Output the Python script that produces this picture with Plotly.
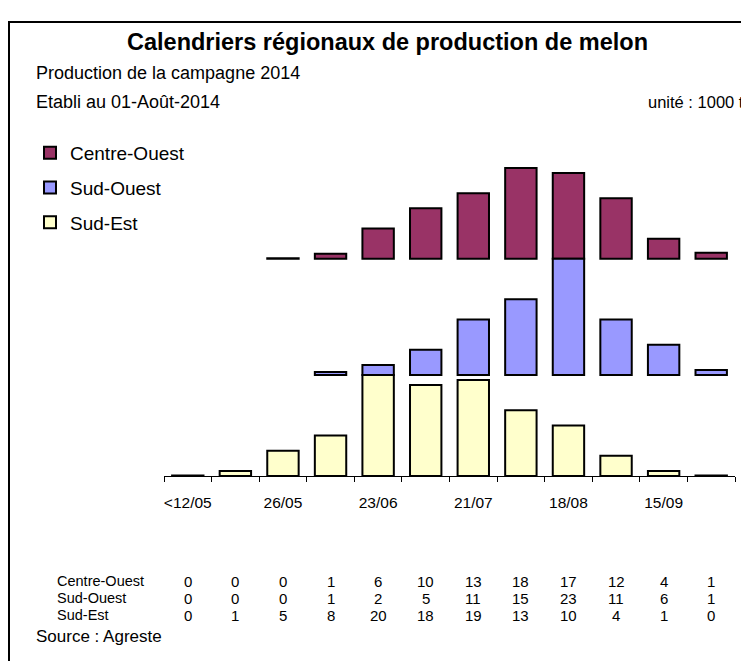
import plotly.graph_objects as go

# ---- data ----
categories = ["<12/05", "12/05", "26/05", "09/06", "23/06", "07/07",
              "21/07", "04/08", "18/08", "01/09", "15/09", "29/09"]
tick_labels = ["<12/05", "", "26/05", "", "23/06", "",
               "21/07", "", "18/08", "", "15/09", ""]
centre_ouest = [0, 0, 0.1, 1, 6, 10, 13, 18, 17, 12, 4, 1.2]
sud_ouest = [0, 0, 0, 0.6, 2, 5, 11, 15, 23, 11, 6, 1]
sud_est = [0.1, 1, 5, 8, 20, 18, 19, 13, 10, 4, 1, 0.1]

series = [
    ("Centre-Ouest", centre_ouest, "#993366"),
    ("Sud-Ouest", sud_ouest, "#9999FF"),
    ("Sud-Est", sud_est, "#FFFFCC"),
]

# stacked offsets (each region on its own baseline)
base_sud_est = 0
base_sud_ouest = max(sud_est)
base_centre = base_sud_ouest + max(sud_ouest)
bases = {"Centre-Ouest": base_centre, "Sud-Ouest": base_sud_ouest, "Sud-Est": base_sud_est}

# page body has an 8px margin: the figure starts at screen (8, 8)
OFF = 8
W, H = 749 - OFF, 661 - OFF
# plot area in screen pixels
X0, X1, Y0, Y1 = 164, 735, 140, 476
L, R, T, B = X0 - OFF, W - (X1 - OFF), Y0 - OFF, H - (Y1 - OFF)
PW, PH = X1 - X0, Y1 - Y0
FONT = "Liberation Sans, Arial, sans-serif"


def px(x):
    return (x - X0) / PW


def py(y):
    return (Y1 - y) / PH


fig = go.Figure()
for i, (name, vals, col) in enumerate(series):
    fig.add_trace(go.Bar(
        x=categories, y=[v if v else None for v in vals], base=bases[name], name=name,
        marker=dict(color=col, line=dict(color="black", width=2)),
        legendgroup=name, hoverinfo="skip",
    ))

ann = []
ann.append(dict(text="<b>Calendriers régionaux de production de melon</b>",
                x=px(387), y=py(42), xref="paper", yref="paper",
                xanchor="center", yanchor="middle", showarrow=False,
                font=dict(size=23.5, color="black", family=FONT)))
ann.append(dict(text="Production de la campagne 2014", x=px(34), y=py(73),
                xref="paper", yref="paper", xanchor="left", yanchor="middle",
                showarrow=False, font=dict(size=18, color="black", family=FONT)))
ann.append(dict(text="Etabli au 01-Août-2014", x=px(34), y=py(102),
                xref="paper", yref="paper", xanchor="left", yanchor="middle",
                showarrow=False, font=dict(size=18, color="black", family=FONT)))
ann.append(dict(text="unité : 1000 t", x=px(746), y=py(102),
                xref="paper", yref="paper", xanchor="right", yanchor="middle",
                showarrow=False, font=dict(size=16.5, color="black", family=FONT)))
ann.append(dict(text="Source : Agreste", x=px(34), y=py(636),
                xref="paper", yref="paper", xanchor="left", yanchor="middle",
                showarrow=False, font=dict(size=17, color="black", family=FONT)))

row_y = {"Centre-Ouest": 581, "Sud-Ouest": 598, "Sud-Est": 615}
for name, vals, col in series:
    ann.append(dict(text=name, x=px(55), y=py(row_y[name]), xref="paper", yref="paper",
                    xanchor="left", yanchor="middle", showarrow=False,
                    font=dict(size=14.5, color="black", family=FONT)))
    for c, v in zip(categories, vals):
        ann.append(dict(text="{:.0f}".format(v), x=c, y=py(row_y[name]),
                        xref="x", yref="paper", xanchor="center", yanchor="middle",
                        showarrow=False, font=dict(size=15, color="black", family=FONT)))

fig.update_layout(
    width=W, height=H,
    margin=dict(l=L, r=R, t=T, b=B, autoexpand=False),
    paper_bgcolor="white", plot_bgcolor="white",
    barmode="overlay", bargap=0.34,
    font=dict(family=FONT, color="black"),
    showlegend=True,
    legend=dict(x=(30 - OFF) / W, y=1 - (134 - OFF) / H, xanchor="left", yanchor="top",
                xref="container", yref="container",
                font=dict(size=19, color="black", family=FONT),
                tracegroupgap=7, traceorder="grouped",
                bgcolor="rgba(0,0,0,0)"),
    annotations=ann,
    shapes=[dict(type="rect", xref="paper", yref="paper",
                 x0=px(9), x1=px(770), y0=py(22), y1=py(700),
                 line=dict(color="black", width=2), fillcolor="rgba(0,0,0,0)",
                 layer="below")],
)
fig.update_xaxes(
    type="category", categoryorder="array", categoryarray=categories,
    tickmode="array", tickvals=categories, ticktext=tick_labels, tickangle=0,
    tickson="boundaries", ticks="outside", ticklen=5, tickcolor="black", tickwidth=1,
    showline=True, linecolor="black", linewidth=1, showgrid=False, zeroline=False,
    tickfont=dict(size=15.5, color="black", family=FONT), ticklabelstandoff=12,
    automargin=False, fixedrange=True,
)
fig.update_yaxes(range=[0, PH / 5.05], visible=False, showgrid=False, fixedrange=True,
                 automargin=False)

fig.write_html("out.html")
